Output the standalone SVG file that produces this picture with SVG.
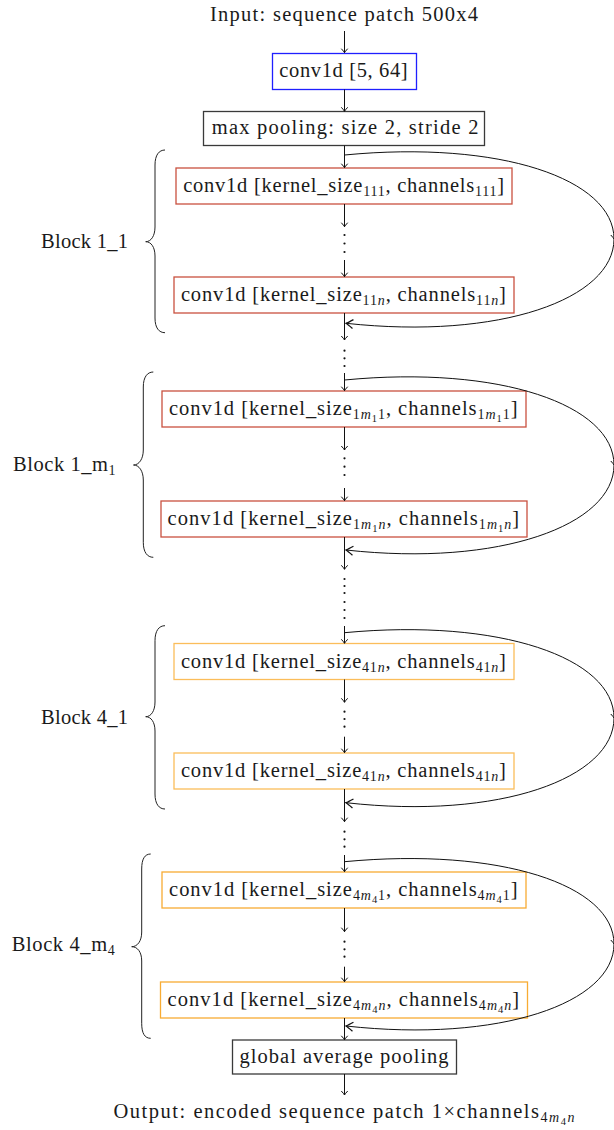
<svg xmlns="http://www.w3.org/2000/svg" width="614" height="1130" viewBox="0 0 614 1130">
<style>
text{font-family:'Liberation Serif','Times New Roman',serif;font-size:20.5px;fill:#1a1a1a}
.s{font-size:14px}
.ss{font-size:10.5px}
.i{font-style:italic}
.box{fill:#fff;stroke-width:1.3}
.blue{stroke:#1f1fff}
.gray{stroke:#3a3a3a}
.red{stroke:#c9513f}
.orA{stroke:#fbbd5a}
.orB{stroke:#f8ab33}
.ln{fill:none;stroke:#111;stroke-width:1}
.brace{fill:none;stroke:#222;stroke-width:1}
.dot{fill:#111}
</style>
<defs>
<marker id="arr" markerUnits="userSpaceOnUse" markerWidth="10" markerHeight="10" refX="0" refY="0" viewBox="-6 -5 8 10" orient="auto" overflow="visible">
<path d="M-4,-3.2 Q-1.2,-0.6 0,0 Q-1.2,0.6 -4,3.2" fill="none" stroke="#111" stroke-width="1"/>
</marker>
<marker id="big" markerUnits="userSpaceOnUse" markerWidth="14" markerHeight="14" refX="0" refY="0" viewBox="-10 -7 12 14" orient="auto" overflow="visible">
<path d="M-7,-4.5 Q-2,-1 0,0 Q-2,1 -7,4.5" fill="none" stroke="#111" stroke-width="1.3"/>
</marker>
</defs>

<g id="title"><text x="210" y="20.7" textLength="268" lengthAdjust="spacing">Input: sequence patch 500x4</text></g>

<g id="conv0"><rect class="box blue" x="272.5" y="53.5" width="144" height="36"/><text x="279.3" y="77" textLength="128.4" lengthAdjust="spacing">conv1d [5, 64]</text></g>

<g id="maxpool"><rect class="box gray" x="203.5" y="111.5" width="281" height="34"/><text x="211.7" y="134" textLength="266.7" lengthAdjust="spacing">max pooling: size 2, stride 2</text></g>

<g id="b11a"><rect class="box red" x="176" y="168" width="336" height="36"/><text x="183.2" y="192" textLength="320.8" lengthAdjust="spacing">conv1d [kernel_size<tspan class="s" dy="4">111</tspan><tspan dy="-4">, channels</tspan><tspan class="s" dy="4">111</tspan><tspan dy="-4">]</tspan></text></g>

<g id="b11b"><rect class="box red" x="174" y="277" width="340" height="36"/><text x="180.9" y="301" textLength="325" lengthAdjust="spacing">conv1d [kernel_size<tspan class="s" dy="4">11<tspan class="i">n</tspan></tspan><tspan dy="-4">, channels</tspan><tspan class="s" dy="4">11<tspan class="i">n</tspan></tspan><tspan dy="-4">]</tspan></text></g>

<g id="b1ma"><rect class="box red" x="162" y="391" width="364" height="36"/><text x="169" y="415" textLength="348.5" lengthAdjust="spacing">conv1d [kernel_size<tspan class="s" dy="4">1<tspan class="i">m</tspan><tspan class="ss" dy="2.5">1</tspan><tspan dy="-2.5">1</tspan></tspan><tspan dy="-4">, channels</tspan><tspan class="s" dy="4">1<tspan class="i">m</tspan><tspan class="ss" dy="2.5">1</tspan><tspan dy="-2.5">1</tspan></tspan><tspan dy="-4">]</tspan></text></g>

<g id="b1mb"><rect class="box red" x="161" y="501" width="366" height="36"/><text x="167.6" y="525" textLength="351.6" lengthAdjust="spacing">conv1d [kernel_size<tspan class="s" dy="4">1<tspan class="i">m</tspan><tspan class="ss" dy="2.5">1</tspan><tspan class="i" dy="-2.5">n</tspan></tspan><tspan dy="-4">, channels</tspan><tspan class="s" dy="4">1<tspan class="i">m</tspan><tspan class="ss" dy="2.5">1</tspan><tspan class="i" dy="-2.5">n</tspan></tspan><tspan dy="-4">]</tspan></text></g>

<g id="b41a"><rect class="box orA" x="174" y="643.5" width="340" height="36"/><text x="180.9" y="667.5" textLength="325" lengthAdjust="spacing">conv1d [kernel_size<tspan class="s" dy="4">41<tspan class="i">n</tspan></tspan><tspan dy="-4">, channels</tspan><tspan class="s" dy="4">41<tspan class="i">n</tspan></tspan><tspan dy="-4">]</tspan></text></g>

<g id="b41b"><rect class="box orA" x="174" y="753" width="340" height="36"/><text x="180.9" y="777" textLength="325" lengthAdjust="spacing">conv1d [kernel_size<tspan class="s" dy="4">41<tspan class="i">n</tspan></tspan><tspan dy="-4">, channels</tspan><tspan class="s" dy="4">41<tspan class="i">n</tspan></tspan><tspan dy="-4">]</tspan></text></g>

<g id="b4ma"><rect class="box orB" x="162" y="872" width="364" height="36"/><text x="169.1" y="896" textLength="348.5" lengthAdjust="spacing">conv1d [kernel_size<tspan class="s" dy="4">4<tspan class="i">m</tspan><tspan class="ss" dy="2.5">4</tspan><tspan dy="-2.5">1</tspan></tspan><tspan dy="-4">, channels</tspan><tspan class="s" dy="4">4<tspan class="i">m</tspan><tspan class="ss" dy="2.5">4</tspan><tspan dy="-2.5">1</tspan></tspan><tspan dy="-4">]</tspan></text></g>

<g id="b4mb"><rect class="box orB" x="160.5" y="982" width="367" height="36"/><text x="167.6" y="1006" textLength="351.6" lengthAdjust="spacing">conv1d [kernel_size<tspan class="s" dy="4">4<tspan class="i">m</tspan><tspan class="ss" dy="2.5">4</tspan><tspan class="i" dy="-2.5">n</tspan></tspan><tspan dy="-4">, channels</tspan><tspan class="s" dy="4">4<tspan class="i">m</tspan><tspan class="ss" dy="2.5">4</tspan><tspan class="i" dy="-2.5">n</tspan></tspan><tspan dy="-4">]</tspan></text></g>

<g id="gap"><rect class="box gray" x="232.5" y="1040" width="224" height="34"/><text x="239.6" y="1063" textLength="209" lengthAdjust="spacing">global average pooling</text></g>

<g id="output"><text x="113.5" y="1118" textLength="461" lengthAdjust="spacing">Output: encoded sequence patch 1×channels<tspan class="s" dy="4">4<tspan class="i">m</tspan><tspan class="ss" dy="2.5">4</tspan><tspan class="i" dy="-2.5">n</tspan></tspan></text></g>

<g id="block11"><path class="brace" d="M165,150 C159,150 155,155 155,165 L155,227 C155,236 151,241.7 145.7,241.7 C151,241.7 155,247 155,256 L155,318 C155,328 159,332.7 165,332.7"/><text x="41" y="248.3" textLength="87" lengthAdjust="spacing">Block 1_1</text></g>

<g id="block1m"><path class="brace" d="M153.3,372 C147.3,372 143.3,377 143.3,387 L143.3,450 C143.3,459 139,465 133.5,465 C139,465 143.3,471 143.3,480 L143.3,542.3 C143.3,552.3 147.3,557.3 153.3,557.3"/><text x="13" y="471" textLength="102.5" lengthAdjust="spacing">Block 1_m<tspan class="s" dy="4">1</tspan></text></g>

<g id="block41"><path class="brace" d="M165,625.7 C159,625.7 155,630.7 155,640.7 L155,702 C155,711 151,716.7 145.7,716.7 C151,716.7 155,722 155,731 L155,794 C155,804 159,809 165,809"/><text x="41" y="723.5" textLength="87" lengthAdjust="spacing">Block 4_1</text></g>

<g id="block4m"><path class="brace" d="M150.7,854 C144.7,854 141.7,859 141.7,869 L141.7,932 C141.7,941 137.5,946.7 131.7,946.7 C137.5,946.7 141.7,952 141.7,961 L141.7,1023.3 C141.7,1033.3 144.7,1038.3 150.7,1038.3"/><text x="11.7" y="951" textLength="103" lengthAdjust="spacing">Block 4_m<tspan class="s" dy="4">4</tspan></text></g>

<g id="connectors">
<g class="ln" marker-end="url(#arr)">
<path d="M344.5,31 V52.7"/>
<path d="M344.5,89.5 V111.3"/>
<path d="M344.5,145.5 V167.7"/>
<path d="M344.5,204 V226.7"/>
<path d="M344.5,260 V276.7"/>
<path d="M344.5,313 V340"/>
<path d="M344.5,373 V390.7"/>
<path d="M344.5,427 V450"/>
<path d="M344.5,488 V500.7"/>
<path d="M344.5,537 V569.3"/>
<path d="M344.5,626 V643.3"/>
<path d="M344.5,679.5 V702.3"/>
<path d="M344.5,736.7 V752.7"/>
<path d="M344.5,789 V821.7"/>
<path d="M344.5,855 V871.7"/>
<path d="M344.5,908 V931.7"/>
<path d="M344.5,966.7 V981.7"/>
<path d="M344.5,1018 V1039.8"/>
<path d="M344.5,1074 V1095"/>
</g>
<g class="dot">
<circle cx="344.5" cy="235" r="1.1"/><circle cx="344.5" cy="243.5" r="1.1"/><circle cx="344.5" cy="252" r="1.1"/>
<circle cx="344.5" cy="350.7" r="1.1"/><circle cx="344.5" cy="358.3" r="1.1"/><circle cx="344.5" cy="366" r="1.1"/>
<circle cx="344.5" cy="458.3" r="1.1"/><circle cx="344.5" cy="466.7" r="1.1"/><circle cx="344.5" cy="475" r="1.1"/>
<circle cx="344.5" cy="579" r="1.1"/><circle cx="344.5" cy="586" r="1.1"/><circle cx="344.5" cy="593" r="1.1"/>
<circle cx="344.5" cy="602" r="1.1"/><circle cx="344.5" cy="610" r="1.1"/><circle cx="344.5" cy="618" r="1.1"/>
<circle cx="344.5" cy="711.7" r="1.1"/><circle cx="344.5" cy="719" r="1.1"/><circle cx="344.5" cy="726.7" r="1.1"/>
<circle cx="344.5" cy="831.7" r="1.1"/><circle cx="344.5" cy="839.3" r="1.1"/><circle cx="344.5" cy="846.7" r="1.1"/>
<circle cx="344.5" cy="941.7" r="1.1"/><circle cx="344.5" cy="949.3" r="1.1"/><circle cx="344.5" cy="956.7" r="1.1"/>
</g>
<g class="ln" marker-mid="url(#arr)" marker-end="url(#big)">
<path d="M344.5,155 C500,140 614,179 614,239 C614,299 500,340 346,323.3"/>
<path d="M344.5,380 C500,365 614,405 614,465 C614,525 500,567 346,550"/>
<path d="M344.5,632.7 C500,618 614,658 614,718 C614,778 500,820 346,802.7"/>
<path d="M344.5,861.7 C500,847 614,885 614,944 C614,1003 500,1043 346,1026"/>
</g>
</g>
</svg>
